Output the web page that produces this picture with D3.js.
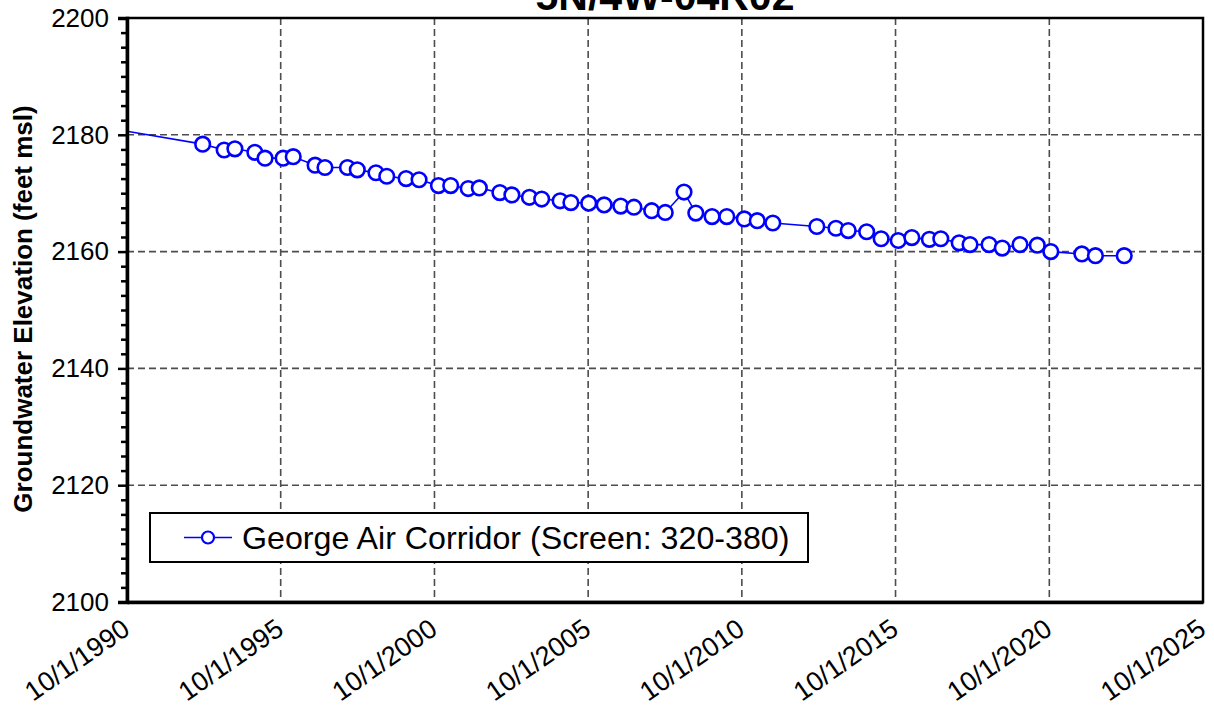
<!DOCTYPE html>
<html>
<head>
<meta charset="utf-8">
<script src="https://cdn.jsdelivr.net/npm/d3@7/dist/d3.min.js"></script>
<style>
  html, body { margin: 0; padding: 0; background: #fff; }
  svg { display: block; }
  text { font-family: "Liberation Sans", Arial, sans-serif; fill: #000; }
</style>
</head>
<body>
<svg id="chart" width="1214" height="706"></svg>
<script>
// Well hydrograph: groundwater elevation over time
const chartTitle = "5N/4W-04R02";
const seriesName = "George Air Corridor (Screen: 320-380)";
const yTitle = "Groundwater Elevation (feet msl)";

const sampleDates = [
  "1988-10-01",
  "1993-03-18", "1993-11-28", "1994-04-05", "1994-11-28", "1995-03-29", "1995-10-30",
  "1996-02-27", "1996-11-13", "1997-03-10", "1997-12-02", "1998-03-29", "1998-11-06",
  "1999-03-14", "1999-10-30", "2000-04-01", "2000-11-17", "2001-04-12", "2001-11-06",
  "2002-03-18", "2002-11-17", "2003-04-09", "2003-11-03", "2004-03-28", "2004-11-02",
  "2005-03-10", "2005-10-08", "2006-04-09", "2006-10-23", "2007-03-29", "2007-10-26",
  "2008-04-04", "2008-11-13", "2009-04-02", "2009-10-12", "2010-04-05", "2010-10-30",
  "2011-04-02", "2011-10-04", "2013-03-10", "2013-10-23", "2014-03-18", "2014-10-23",
  "2015-04-13", "2015-11-02", "2016-04-12", "2016-11-06", "2017-03-22", "2017-10-26",
  "2018-03-04", "2018-10-16", "2019-03-22", "2019-10-19", "2020-05-11", "2020-10-19",
  "2021-10-23", "2022-04-02", "2023-03-10"
];
const elevations = [
  2182.4,
  2178.4, 2177.4, 2177.6, 2177.0, 2176.0, 2176.0,
  2176.25, 2174.8, 2174.4, 2174.4, 2174.0, 2173.5,
  2172.9, 2172.5, 2172.3, 2171.3, 2171.3, 2170.8,
  2170.9, 2170.1, 2169.7, 2169.3, 2169.0, 2168.7,
  2168.4, 2168.3, 2168.0, 2167.8, 2167.6, 2167.0,
  2166.7, 2170.2, 2166.6, 2166.0, 2166.0, 2165.6,
  2165.3, 2164.9, 2164.3, 2164.0, 2163.6, 2163.4,
  2162.2, 2161.9, 2162.4, 2162.1, 2162.2, 2161.5,
  2161.2, 2161.2, 2160.6, 2161.2, 2161.1, 2160.0,
  2159.6, 2159.3, 2159.3
];
const xTickYears = [1990, 1995, 2000, 2005, 2010, 2015, 2020, 2025];
const yTicks = [2100, 2120, 2140, 2160, 2180, 2200];
const yMinorStep = 2.5;

const parse = d3.timeParse("%Y-%m-%d");
const data = sampleDates.map((d, i) => ({ date: parse(d), value: elevations[i] }));

const plotLeft = 127, plotRight = 1203, plotTop = 18, plotBottom = 602;
const svg = d3.select("#chart");

const x = d3.scaleTime()
  .domain([new Date(1990, 9, 1), new Date(2025, 9, 1)])
  .range([plotLeft, plotRight]);
const y = d3.scaleLinear().domain([2100, 2200]).range([plotBottom, plotTop]);

const xTickDates = xTickYears.map(yr => new Date(yr, 9, 1));

svg.append("defs").append("clipPath").attr("id", "plot-clip")
  .append("rect").attr("x", plotLeft).attr("y", plotTop)
  .attr("width", plotRight - plotLeft).attr("height", plotBottom - plotTop);

// dashed grid
const grid = svg.append("g").attr("stroke", "#4d4d4d").attr("stroke-width", 1.6)
  .attr("stroke-dasharray", "7,4");
grid.selectAll("line.h").data(yTicks.filter(v => v > 2100 && v < 2200)).join("line")
  .attr("class", "h").attr("x1", plotLeft).attr("x2", plotRight)
  .attr("y1", d => y(d)).attr("y2", d => y(d));
grid.selectAll("line.v").data(xTickDates.slice(1, -1)).join("line")
  .attr("class", "v").attr("y1", plotTop).attr("y2", plotBottom)
  .attr("x1", d => x(d)).attr("x2", d => x(d));

// series
const plot = svg.append("g").attr("clip-path", "url(#plot-clip)");
plot.append("path").datum(data)
  .attr("fill", "none").attr("stroke", "#0000ff").attr("stroke-width", 1.6)
  .attr("d", d3.line().x(d => x(d.date)).y(d => y(d.value)));
plot.selectAll("circle").data(data).join("circle")
  .attr("cx", d => x(d.date)).attr("cy", d => y(d.value)).attr("r", 7.3)
  .attr("fill", "#fff").attr("stroke", "#0000ff").attr("stroke-width", 2.6);

// frame
svg.append("rect").attr("x", plotLeft).attr("y", plotTop)
  .attr("width", plotRight - plotLeft).attr("height", plotBottom - plotTop)
  .attr("fill", "none").attr("stroke", "#000").attr("stroke-width", 2.5);

// y axis with minor ticks
const minorVals = d3.range(2100, 2200 + 0.001, yMinorStep).filter(v => !yTicks.includes(v));
svg.append("g").attr("transform", `translate(${plotLeft},0)`)
  .call(d3.axisLeft(y).tickValues(minorVals).tickSize(6).tickFormat(""))
  .call(g => g.select(".domain").remove())
  .call(g => g.selectAll("line").attr("stroke", "#000").attr("stroke-width", 2.5));
const yAxis = svg.append("g").attr("transform", `translate(${plotLeft},0)`)
  .call(d3.axisLeft(y).tickValues(yTicks).tickSize(9).tickPadding(9).tickFormat(d3.format("d")))
  .call(g => g.select(".domain").attr("stroke", "#000").attr("stroke-width", 3.5));
yAxis.selectAll("line").attr("stroke", "#000").attr("stroke-width", 2.5);
yAxis.selectAll("text").attr("font-size", 26).attr("fill", "#000");

// x axis
const fmt = d3.timeFormat("%-m/%-d/%Y");
const xAxis = svg.append("g").attr("transform", `translate(0,${plotBottom})`)
  .call(d3.axisBottom(x).tickValues(xTickDates).tickSize(0).tickFormat(fmt))
  .call(g => g.select(".domain").attr("stroke", "#000").attr("stroke-width", 3.5));
xAxis.selectAll("text")
  .attr("font-size", 27).attr("fill", "#000")
  .attr("text-anchor", "end").attr("dy", 0).attr("y", 0)
  .attr("transform", "translate(4,31) rotate(-35)");

// axis title
svg.append("text")
  .attr("transform", `translate(32,${309}) rotate(-90)`)
  .attr("text-anchor", "middle").attr("font-size", 26).attr("font-weight", "bold")
  .text(yTitle);

// chart title (partly above the page edge)
svg.append("text").attr("x", (plotLeft + plotRight) / 2).attr("y", 10)
  .attr("text-anchor", "middle").attr("font-size", 41).attr("font-weight", "bold")
  .text(chartTitle);

// legend
const lg = svg.append("g");
lg.append("rect").attr("x", 150).attr("y", 513).attr("width", 658).attr("height", 49)
  .attr("fill", "#fff").attr("stroke", "#000").attr("stroke-width", 2);
lg.append("line").attr("x1", 184).attr("x2", 232).attr("y1", 537.5).attr("y2", 537.5)
  .attr("stroke", "#0000ff").attr("stroke-width", 1.6);
lg.append("circle").attr("cx", 208).attr("cy", 537.5).attr("r", 6)
  .attr("fill", "#fff").attr("stroke", "#0000ff").attr("stroke-width", 2.2);
lg.append("text").attr("x", 242).attr("y", 549).attr("font-size", 32.2)
  .text(seriesName);
</script>
</body>
</html>
